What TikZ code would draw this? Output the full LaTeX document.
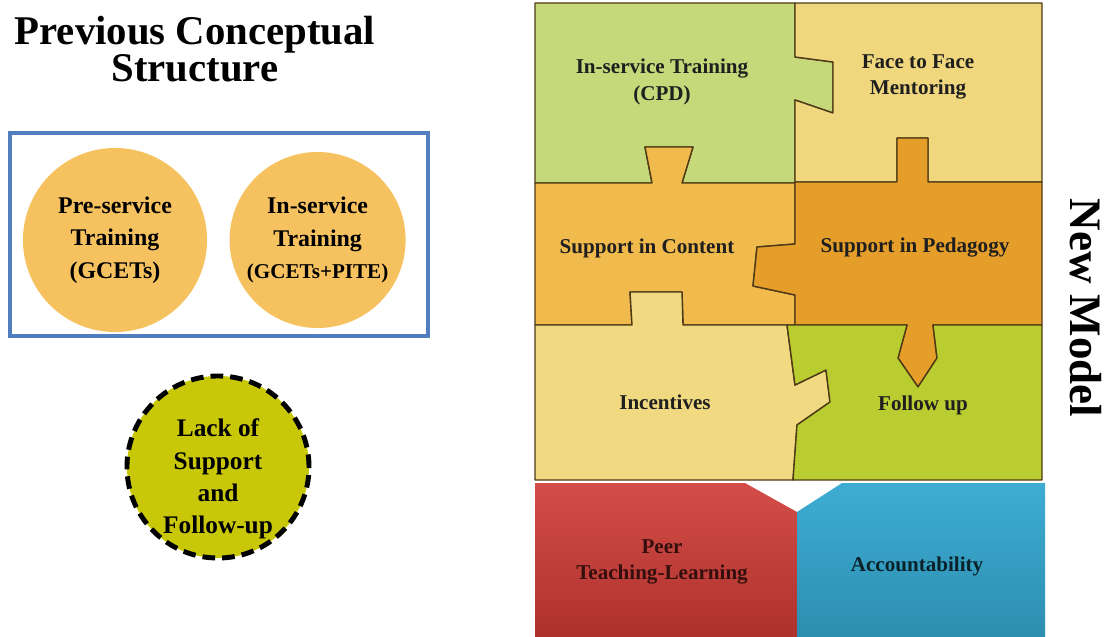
\documentclass[tikz,border=0pt]{standalone}
\usepackage{fontspec}
\setmainfont{Liberation Serif}
\usetikzlibrary{positioning}
\definecolor{cpdgreen}{RGB}{197,216,122}
\definecolor{mentoryellow}{RGB}{240,214,125}
\definecolor{contentorange}{RGB}{240,186,76}
\definecolor{pedaorange}{RGB}{229,158,42}
\definecolor{incentyellow}{RGB}{240,217,128}
\definecolor{followgreen}{RGB}{186,205,48}
\definecolor{peerred}{RGB}{206,58,52}
\definecolor{acctblue}{RGB}{52,168,208}
\definecolor{edgebrown}{RGB}{78,58,22}
\definecolor{circorange}{RGB}{246,194,96}
\definecolor{lackyellow}{RGB}{200,199,8}
\definecolor{boxblue}{RGB}{80,126,190}

\tikzset{
  piece/.style={draw=edgebrown, line width=1pt, line join=round},
  piecetext/.style={font=\bfseries\fontsize{15}{19}\selectfont, align=center, text=black!88},
  oldcircle/.style={circle, fill=circorange, inner sep=0pt, align=center,
                    font=\bfseries\fontsize{17}{23}\selectfont},
}

\begin{document}
\begin{tikzpicture}[x=0.025cm, y=-0.025cm]
    \useasboundingbox (0,0) rectangle (1106,637);

    % Left side: previous structure
    \node[font=\bfseries\fontsize{29}{20}\selectfont, align=center, inner sep=0pt] (title) at (195,49)
          {Previous Conceptual\\Structure};
    \draw[boxblue, line width=3pt] (10,133) rectangle (428,336);
    \node[oldcircle, minimum size=4.6cm] (preserv) at (115,240)
          {Pre-service\\Training\\(GCETs)};
    \node[oldcircle, minimum size=4.4cm, right=0.55cm of preserv] (inserv)
          {In-service\\Training\\{\fontsize{15}{23}\selectfont(GCETs+PITE)}};
    \node[circle, fill=lackyellow, draw=black, line width=3.5pt, dash pattern=on 9pt off 5pt,
          minimum size=4.55cm, inner sep=0pt] (lack) at (218,467) {};
    \node[font=\bfseries\fontsize{18}{23}\selectfont, align=center] (lacktext) at (218,479)
          {Lack of\\Support\\and\\Follow-up};

    % Puzzle pieces
    \draw[piece, fill=cpdgreen] (535,3) -- (795,3) -- (795,57) -- (833,62) -- (833,113)
          -- (795,100) -- (795,183) -- (682,183) -- (693,147) -- (645,147) -- (652,183)
          -- (535,183) -- cycle;
    \draw[piece, fill=mentoryellow] (795,3) -- (1042,3) -- (1042,182) -- (928,182)
          -- (928,138) -- (897,138) -- (897,182) -- (795,182) -- (795,100) -- (833,113)
          -- (833,62) -- (795,57) -- cycle;
    \draw[piece, fill=contentorange] (535,183) -- (652,183) -- (645,147) -- (693,147)
          -- (682,183) -- (795,183) -- (795,244) -- (757,247) -- (753,286) -- (795,295)
          -- (795,325) -- (683,325) -- (682,292) -- (630,292) -- (632,325) -- (535,325) -- cycle;
    \draw[piece, fill=pedaorange] (795,182) -- (897,182) -- (897,138) -- (928,138)
          -- (928,182) -- (1042,182) -- (1042,325) -- (933,325) -- (937,358) -- (918,387)
          -- (898,358) -- (907,325) -- (795,325) -- (795,295) -- (753,286) -- (757,247)
          -- (795,244) -- cycle;
    \draw[piece, fill=incentyellow] (535,325) -- (632,325) -- (630,292) -- (682,292)
          -- (683,325) -- (787,325) -- (795,385) -- (826,370) -- (830,402) -- (797,425)
          -- (793,480) -- (535,480) -- cycle;
    \draw[piece, fill=followgreen] (787,325) -- (907,325) -- (898,358) -- (918,387)
          -- (937,358) -- (933,325) -- (1042,325) -- (1042,480) -- (793,480) -- (797,425)
          -- (830,402) -- (826,370) -- (795,385) -- cycle;
    \shade[top color=peerred!90!white, bottom color=peerred!85!black]
          (535,483) -- (745,483) -- (797,512) -- (797,637) -- (535,637) -- cycle;
    \shade[top color=acctblue!95!white, bottom color=acctblue!85!black]
          (797,512) -- (842,483) -- (1045,483) -- (1045,637) -- (797,637) -- cycle;

    % Piece labels
    \node[piecetext] (cpd) at (662,82) {In-service Training\\(CPD)};
    \node[piecetext] (mentor) at (918,77) {Face to Face\\Mentoring};
    \node[piecetext] (content) at (647,248) {Support in Content};
    \node[piecetext] (pedagogy) at (915,248) {Support in Pedagogy};
    \node[piecetext] (incent) at (665,402) {Incentives};
    \node[piecetext] (follow) at (923,405) {Follow up};
    \node[piecetext, text=black!75!peerred] (peer) at (662,562) {Peer\\Teaching-Learning};
    \node[piecetext, text=black!80!acctblue] (account) at (917,566) {Accountability};

    \node[font=\bfseries\fontsize{32}{32}\selectfont, rotate=-90] (newmodel) at (1086,308)
          {New Model};
\end{tikzpicture}
\end{document}
